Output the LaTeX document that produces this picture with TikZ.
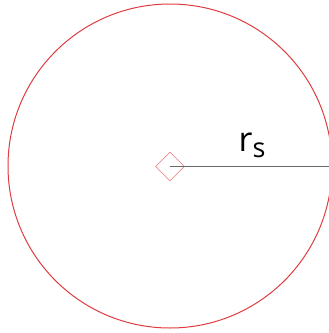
\documentclass[tikz,border=0pt]{standalone}
\usepackage{fontspec}
\setmainfont{Open Sans}
\usetikzlibrary{shapes.geometric}
\definecolor{circred}{RGB}{222,60,64}
\definecolor{diapink}{RGB}{236,140,140}
\definecolor{linegray}{RGB}{105,105,105}
\tikzset{
  boundary/.style={draw=circred, line width=1pt},
  centermark/.style={draw=diapink, diamond, minimum width=29pt, minimum height=29pt, inner sep=0pt, line width=0.7pt},
  radius line/.style={draw=linegray, line width=1.5pt},
  label text/.style={font=\fontsize{34}{38}\selectfont, text=black, inner sep=0pt}
}
\begin{document}
\begin{tikzpicture}[x=1pt,y=-1pt]
\useasboundingbox (0,0) rectangle (329,333);
\node[boundary, circle, minimum size=324pt, inner sep=0pt] (circ) at (170,166) {};
\node[centermark] (c) at (170,166.5) {};
\coordinate (e) at (334,166.5);
\draw[radius line] (c.center) -- (e);
\node[label text, anchor=base west] (rs) at (238.5,151) {r\raisebox{-6pt}{\fontsize{27}{30}\selectfont s}};
\end{tikzpicture}
\end{document}
